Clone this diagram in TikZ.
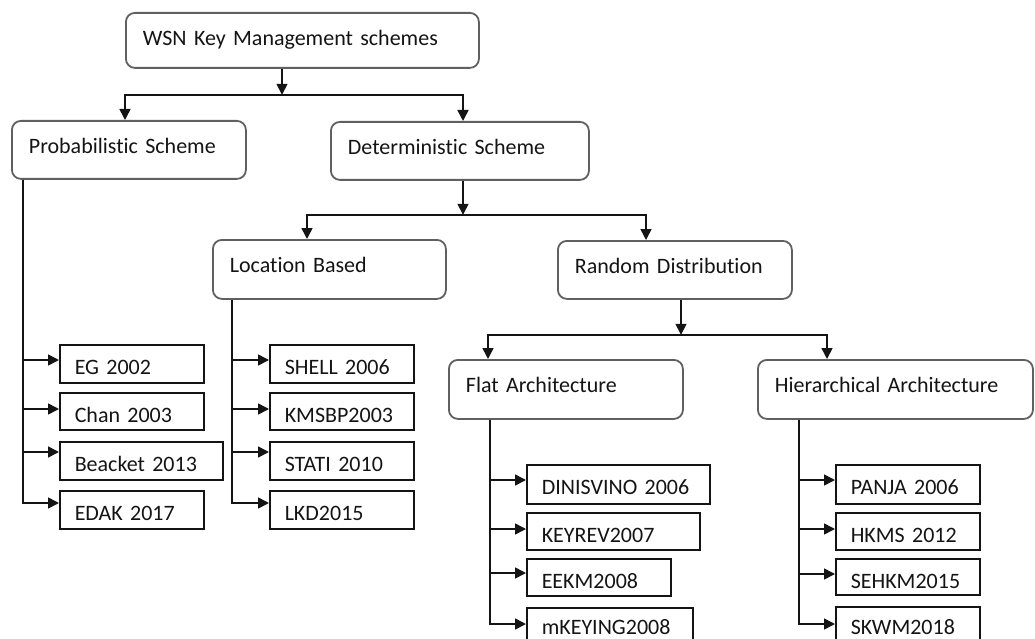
\documentclass[tikz,border=0pt]{standalone}
\usepackage{fontspec}
\setmainfont{Carlito}[Ligatures=NoCommon]
\usetikzlibrary{arrows.meta}
\definecolor{rim}{RGB}{96,96,96}
\definecolor{ink}{RGB}{20,20,20}
\begin{document}
\begin{tikzpicture}[x=1pt,y=-1pt,
  every node/.style={font=\fontsize{22pt}{26pt}\selectfont, text=ink},
  group/.style={draw=rim, line width=1.8pt, rounded corners=9pt, anchor=north west,
    inner xsep=17pt, inner ysep=0pt, align=left, text height=33pt},
  item/.style={draw=ink, line width=1.5pt, anchor=north west,
    inner xsep=15pt, inner ysep=0pt, align=left, text height=30pt},
  link/.style={line width=1.6pt, draw=ink},
  arr/.style={link, -{Triangle[length=11pt,width=11pt]}}]
\useasboundingbox (0,0) rectangle (1035,639);
\clip (0,0) rectangle (1035,639);

% category boxes
\node[group, text width=319pt, text depth=22pt] (wsn)  at (125,12)  {WSN Key Management schemes};
\node[group, text width=200pt, text depth=25pt] (prob) at (11,120)  {Probabilistic Scheme};
\node[group, text width=224pt, text depth=25pt] (det)  at (330,121) {Deterministic Scheme};
\node[group, text width=199pt, text depth=26pt] (loc)  at (212,239) {Location Based};
\node[group, text width=200pt, text depth=25pt] (rand) at (557,240) {Random Distribution};
\node[group, text width=200pt, text depth=26pt] (flat) at (448,359) {Flat Architecture};
\node[group, text width=241pt, text depth=26pt] (hier) at (757,359) {Hierarchical Architecture};

% probabilistic schemes
\node[item, text width=114pt, text depth=8pt] (eg)      at (59,344) {EG 2002};
\node[item, text width=114pt, text depth=7pt] (chan)    at (59,392) {Chan 2003};
\node[item, text width=133pt, text depth=8pt] (beacket) at (59,441) {Beacket 2013};
\node[item, text width=114pt, text depth=8pt] (edak)    at (59,490) {EDAK 2017};

% location based schemes
\node[item, text width=114pt, text depth=8pt] (shell) at (269,344) {SHELL 2006};
\node[item, text width=114pt, text depth=7pt] (kmsbp) at (269,392) {KMSBP2003};
\node[item, text width=114pt, text depth=8pt] (stati) at (269,441) {STATI 2010};
\node[item, text width=114pt, text depth=8pt] (lkd)   at (269,490) {LKD2015};

% flat architecture schemes (the last row runs past the lower edge)
\node[item, text width=153pt, text depth=9pt] (dini)   at (526,464) {DINISVINO 2006};
\node[item, text width=143pt, text depth=7pt] (keyrev) at (526,512) {KEYREV2007};
\node[item, text width=114pt, text depth=7pt] (eekm)   at (526,558) {EEKM2008};
\node[item, text width=136pt, text height=27pt, text depth=11pt] (mkey) at (526,607) {mKEYING2008};

% hierarchical architecture schemes
\node[item, text width=114pt, text depth=9pt] (panja) at (835,464) {PANJA 2006};
\node[item, text width=114pt, text depth=7pt] (hkms)  at (835,512) {HKMS 2012};
\node[item, text width=114pt, text depth=6pt] (sehkm) at (835,558) {SEHKM2015};
\node[item, text width=114pt, text height=28pt, text depth=10pt] (skwm) at (835,606) {SKWM2018};

% tree branches
\draw[arr] ([xshift=157pt]wsn.south west) -- ++(0,26) coordinate (s1);
\draw[arr] (s1) -| ([xshift=114pt]prob.north west);
\draw[arr] (s1) -| ([xshift=133pt]det.north west);

\draw[arr] ([xshift=133pt]det.south west) -- ++(0,34) coordinate (s2);
\draw[arr] (s2) -| ([xshift=95pt]loc.north west);
\draw[arr] (s2) -| ([xshift=89pt]rand.north west);

\draw[arr] ([xshift=124pt]rand.south west) -- ++(0,35) coordinate (s3);
\draw[arr] (s3) -| ([xshift=40pt]flat.north west);
\draw[arr] (s3) -| ([xshift=70pt]hier.north west);

% leaf connectors
\foreach \leaf/\dy in {eg/16, chan/17, beacket/11, edak/13}
  \draw[arr] ([xshift=12pt]prob.south west) |- ([yshift=-\dy pt]\leaf.north west);
\foreach \leaf/\dy in {shell/16, kmsbp/17, stati/11, lkd/13}
  \draw[arr] ([xshift=20pt]loc.south west) |- ([yshift=-\dy pt]\leaf.north west);
\foreach \leaf/\dy in {dini/16, keyrev/17, eekm/15, mkey/17}
  \draw[arr] ([xshift=42pt]flat.south west) |- ([yshift=-\dy pt]\leaf.north west);
\foreach \leaf/\dy in {panja/16, hkms/17, sehkm/16, skwm/18}
  \draw[arr] ([xshift=42pt]hier.south west) |- ([yshift=-\dy pt]\leaf.north west);
\end{tikzpicture}
\end{document}
